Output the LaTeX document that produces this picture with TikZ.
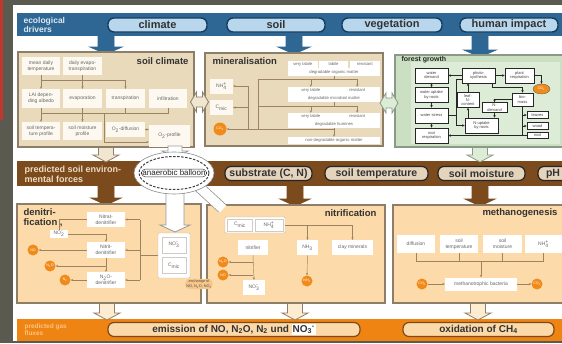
\documentclass[tikz,border=0pt]{standalone}
\usepackage{fontspec}
\setmainfont{Liberation Sans}
\usepackage{tikz}
\usetikzlibrary{shapes, arrows.meta, positioning}

\definecolor{bgdark}{HTML}{5A5A51}
\definecolor{redstrip}{HTML}{C2372D}
\definecolor{drvblue}{HTML}{2E6694}
\definecolor{drvpill}{HTML}{B8D7EC}
\definecolor{drvline}{HTML}{163E61}
\definecolor{drvtext}{HTML}{DCE9F3}
\definecolor{tanfill}{HTML}{E9DABC}
\definecolor{tanlight}{HTML}{F1E6D0}
\definecolor{tanline}{HTML}{8D7E69}
\definecolor{cellwhite}{HTML}{FDF9F1}
\definecolor{greenfill}{HTML}{CBE0C3}
\definecolor{greeninner}{HTML}{DDECD7}
\definecolor{greenline}{HTML}{8A9A85}
\definecolor{soilbrown}{HTML}{7B4A1D}
\definecolor{soilpill}{HTML}{E5D4BC}
\definecolor{soiltext}{HTML}{EEDCC2}
\definecolor{peach}{HTML}{FCDAA9}
\definecolor{peachlight}{HTML}{FDEBD2}
\definecolor{gasorange}{HTML}{EF8412}
\definecolor{gaspill}{HTML}{FCD9A8}
\definecolor{gastext}{HTML}{FBC383}
\definecolor{dotorange}{HTML}{F08B1B}
\definecolor{lnbrown}{HTML}{9C8463}
\definecolor{exchfill}{HTML}{F7C78A}

% x, y top, y tip, stem half width, head half width, fill, line
\newcommand{\blockdown}[7]{%
  \filldraw[fill=#6, draw=#7, line width=0.8pt] (#1-#4,#2) -- (#1+#4,#2) -- (#1+#4,#3-7) -- (#1+#5,#3-7) -- (#1,#3) -- (#1-#5,#3-7) -- (#1-#4,#3-7) -- cycle;}
% x, y, fill, line
\newcommand{\blockboth}[4]{%
  \filldraw[fill=#3, draw=#4, line width=0.8pt] (#1-9,#2) -- (#1-3,#2-10) -- (#1-3,#2-5) -- (#1+3,#2-5) -- (#1+3,#2-10) -- (#1+9,#2) -- (#1+3,#2+10) -- (#1+3,#2+5) -- (#1-3,#2+5) -- (#1-3,#2+10) -- cycle;}
% stacked index and charge
\newcommand{\ionsub}[2]{\ooalign{\textsuperscript{#2}\cr\textsubscript{#1}}}

\begin{document}
\begin{tikzpicture}[
    x=1pt, y=-1pt,
    every node/.style={font=\fontsize{5}{5.8}\selectfont, align=center},
    cell/.style={fill=cellwhite, inner sep=0.3pt, text=black!60},
    pool/.style={fill=white, inner sep=0pt, text=black!60, font=\fontsize{4.2}{4.6}\selectfont},
    fbox/.style={draw=black!85, line width=0.7pt, fill=white, inner sep=0.2pt, text=black!75, font=\fontsize{4}{4.4}\selectfont},
    gasdot/.style={circle, fill=dotorange, inner sep=0pt, minimum size=11pt, text=white, font=\fontsize{3.6}{4}\selectfont},
    ln/.style={draw=lnbrown, line width=0.45pt},
    arr/.style={ln, -{Stealth[length=2.4pt, width=2.2pt]}},
    fln/.style={draw=black!85, line width=0.55pt},
    farr/.style={fln, -{Stealth[length=2.6pt, width=2.4pt]}},
    panel/.style={draw=tanline, line width=1.6pt},
    paneltitle/.style={font=\bfseries\fontsize{9.5}{10}\selectfont, text=black!80, align=left},
    drvpillst/.style={rounded corners=6pt, fill=drvpill, draw=drvline, line width=1.4pt, minimum height=14pt, inner sep=0pt, text=black!80, font=\bfseries\fontsize{11}{12}\selectfont},
    soilpillst/.style={rounded corners=6pt, fill=soilpill, draw=black!85, line width=1.2pt, minimum height=14pt, inner sep=0pt, text=black!80, font=\bfseries\fontsize{10.5}{12}\selectfont},
    gaspillst/.style={rounded corners=6pt, fill=gaspill, draw=soilbrown, line width=1.2pt, minimum height=14pt, inner sep=0pt, text=black!80, font=\bfseries\fontsize{10}{12}\selectfont}
  ]
  \useasboundingbox (0,0) rectangle (562,343);

  % --- Background ---
  \fill[bgdark] (0,0) rectangle (562,343);
  \fill[white] (13,5) rectangle (562,341);
  \fill[redstrip] (0,0) rectangle (3,120);

  % --- Driver bar ---
  \fill[drvblue] (17,13) rectangle (566,36);
  \node[anchor=west, font=\bfseries\fontsize{8.5}{9.5}\selectfont, text=drvtext, align=left] (drvlabel) at (20,25) {ecological\\drivers};
  \node[drvpillst, minimum width=99pt] (climate) at (157.5,25) {climate};
  \node[drvpillst, minimum width=98pt] (soil) at (276,25) {soil};
  \node[drvpillst, minimum width=100pt] (vegetation) at (392,25) {vegetation};
  \node[drvpillst, minimum width=98pt] (humanimpact) at (509,25) {human impact};

  % --- Soil environment bar ---
  \fill[soilbrown] (17,161) rectangle (566,186);
  \node[anchor=west, font=\bfseries\fontsize{9}{10}\selectfont, text=soiltext, align=left] (soillabel) at (21,174) {predicted soil environ-\\mental forces};
  \node[soilpillst, minimum width=87pt] (psubstrate) at (268.5,173.5) {substrate (C, N)};
  \node[soilpillst, minimum width=103pt] (ptemp) at (376.5,173.5) {soil temperature};
  \node[soilpillst, minimum width=87pt] (pmoist) at (481.5,173.5) {soil moisture};
  \node[soilpillst, minimum width=30pt] (pph) at (553,173.5) {pH};

  % --- Gas flux bar ---
  \fill[gasorange] (17,319) rectangle (566,341);
  \node[anchor=west, font=\bfseries\fontsize{6.5}{7.5}\selectfont, text=gastext, align=left] (gaslabel) at (21,329.5) {predicted gas\\fluxes};
  \node[gaspillst, minimum width=252pt] (pemission) at (234,329.5) {emission of NO, N\textsubscript{2}O, N\textsubscript{2} und {\fboxsep=0.8pt\colorbox{white}{NO\textsubscript{3}\textsuperscript{-}}}};
  \node[gaspillst, minimum width=151pt] (poxid) at (478.5,329.5) {oxidation of CH\textsubscript{4}};

  % --- Block arrows ---
  \blockdown{106}{34}{54}{8}{16}{drvblue}{drvblue}
  \blockdown{294}{34}{54}{8}{16}{drvblue}{drvblue}
  \blockdown{480}{34}{57}{8}{16}{drvblue}{drvblue}
  \blockdown{106}{145}{162}{7.5}{13}{tanlight}{tanline}
  \blockdown{480}{145}{162}{7.5}{13}{greeninner}{greenline}
  \blockdown{106}{185}{205}{8}{15}{soilbrown}{soilbrown}
  \blockdown{295}{185}{206}{8}{15}{soilbrown}{soilbrown}
  \blockdown{480}{185}{206}{8}{15}{soilbrown}{soilbrown}
  \blockdown{107}{301}{320}{7.5}{13}{peachlight}{tanline}
  \blockdown{295}{301}{320}{7.5}{13}{peachlight}{tanline}
  \blockdown{478}{301}{320}{7.5}{13}{peachlight}{tanline}

  % --- Soil climate ---
  \draw[panel, fill=tanfill] (18,52) rectangle (194,147);
  \node[paneltitle, anchor=east] (sctitle) at (192,61) {soil climate};
  \node[cell, minimum width=38pt, minimum height=18pt] (meantemp) at (41,66) {mean daily\\temperature};
  \node[cell, minimum width=39pt, minimum height=18pt] (evapotrans) at (82.5,66) {daily evapo-\\transpiration};
  \node[cell, minimum width=38pt, minimum height=19pt] (lai) at (41,98.5) {LAI depen-\\ding albedo};
  \node[cell, minimum width=39pt, minimum height=19pt] (evaporation) at (82.5,98.5) {evaporation};
  \node[cell, minimum width=39pt, minimum height=19pt] (transpiration) at (125.5,98.5) {transpiration};
  \node[cell, minimum width=38pt, minimum height=19pt] (infiltration) at (168,98.5) {infiltration};
  \node[cell, minimum width=38pt, minimum height=18pt] (soiltemp) at (41,131) {soil tempera-\\ture profile};
  \node[cell, minimum width=39pt, minimum height=18pt] (soilmoist) at (82.5,131) {soil moisture\\profile};
  \node[cell, minimum width=39pt, minimum height=15pt] (o2diff) at (125.5,129.5) {O\textsubscript{2}-diffusion};
  \node[cell, minimum width=41pt, minimum height=22pt] (o2prof) at (169.5,136) {O\textsubscript{2}-profile};
  \coordinate (scbusA) at (41,80);
  \draw[ln] (meantemp.south) -- (scbusA) -- (scbusA -| transpiration.north);
  \draw[ln] (evapotrans.south) -- (evapotrans.south |- scbusA);
  \draw[arr] (scbusA) -- (lai.north);
  \draw[arr] (scbusA -| evaporation.north) -- (evaporation.north);
  \draw[arr] (scbusA -| transpiration.north) -- (transpiration.north);
  \coordinate (scbusB) at (41,113);
  \draw[ln] (lai.south) -- (scbusB) -- (scbusB -| infiltration.south) -- (infiltration.south);
  \draw[ln] (evaporation.south) -- (evaporation.south |- scbusB);
  \draw[ln] (transpiration.south) -- (transpiration.south |- scbusB);
  \draw[arr] (scbusB) -- (soiltemp.north);
  \draw[arr] (scbusB -| soilmoist.north) -- (soilmoist.north);
  \draw[arr] (o2diff.east) -- (o2diff.east -| o2prof.west);
  \coordinate (scbusC) at (104,113);
  \coordinate (scbusD) at (104,142);
  \draw[arr] (scbusC) -- (scbusD) -- (scbusD -| o2prof.west);

  % --- Mineralisation ---
  \draw[panel, fill=tanfill] (205,53) rectangle (383,146);
  \node[paneltitle, anchor=west] (mintitle) at (209,61.5) {mineralisation};
  \node[pool, minimum width=29.6pt, minimum height=6.6pt] (mavl) at (302.8,64.3) {very labile};
  \node[pool, minimum width=29.6pt, minimum height=6.6pt] (malab) at (333.6,64.3) {labile};
  \node[pool, minimum width=30.4pt, minimum height=6.6pt] (mares) at (364.8,64.3) {resistant};
  \node[pool, minimum width=92pt, minimum height=7.2pt] (moa) at (334,72) {degradable organic matter};
  \node[pool, minimum width=45.6pt, minimum height=6.6pt] (mbvl) at (310.8,90.3) {very labile};
  \node[pool, minimum width=45.6pt, minimum height=6.6pt] (mbres) at (357.2,90.3) {resistant};
  \node[pool, minimum width=92pt, minimum height=7.2pt] (mbm) at (334,98) {degradable microbial matter};
  \node[pool, minimum width=45.6pt, minimum height=6.6pt] (mcvl) at (310.8,116.3) {very labile};
  \node[pool, minimum width=45.6pt, minimum height=6.6pt] (mcres) at (357.2,116.3) {resistant};
  \node[pool, minimum width=92pt, minimum height=7.2pt] (mch) at (334,124) {degradable humines};
  \node[pool, minimum width=92pt, minimum height=7pt] (mnon) at (334,140.5) {non-degradable organic matter};
  \node[cell, minimum width=23pt, minimum height=15pt] (nh4min) at (221.5,86) {NH\ionsub{4}{+}};
  \node[cell, minimum width=23pt, minimum height=15pt] (cmicmin) at (221.5,107.5) {C\textsubscript{mic}};
  \node[gasdot, minimum size=13pt] (co2min) at (220,129) {CO\textsubscript{2}};
  \coordinate (mtrunk) at (258,79);
  \draw[ln] (mtrunk) -- (mtrunk -| mbres.north);
  \draw[ln] (moa.south) -- (moa.south |- mtrunk);
  \draw[arr] (mtrunk -| mbvl.north) -- (mbvl.north);
  \draw[arr] (mtrunk -| mbres.north) -- (mbres.north);
  \coordinate (mbusB) at (258,106);
  \draw[ln] (mbusB) -- (mbusB -| mcres.north);
  \draw[ln] (mbm.south) -- (mbm.south |- mbusB);
  \draw[arr] (mbusB -| mcvl.north) -- (mcvl.north);
  \draw[arr] (mbusB -| mcres.north) -- (mcres.north);
  \coordinate (mbusC) at (258,129);
  \draw[ln] (mtrunk) -- (mbusC) -- (mbusC -| mnon.north);
  \draw[ln] (mch.south) -- (mch.south |- mbusC);
  \draw[arr] (mbusC -| mnon.north) -- (mnon.north);
  \draw[arr] (mbusC) -- (co2min.east);
  \coordinate (mcol) at (248,86);
  \draw[ln] (mcol) -- (mcol |- mbusC);
  \draw[arr] (mcol) -- (nh4min.east);
  \draw[arr] (mcol |- cmicmin.east) -- (cmicmin.east);

  % --- Forest growth ---
  \draw[draw=greenline, line width=1.6pt, fill=greenfill] (395,55) rectangle (570,147);
  \fill[greeninner] (411,62) rectangle (560,144);
  \node[anchor=west, font=\bfseries\fontsize{7}{8}\selectfont, text=black!85] (fgtitle) at (398,60) {forest growth};
  \node[fbox, minimum width=33pt, minimum height=15pt] (wdem) at (431.5,75.5) {water\\demand};
  \node[fbox, minimum width=33pt, minimum height=15pt] (photo) at (478.5,75.5) {photo-\\synthesis};
  \node[fbox, minimum width=29pt, minimum height=15pt] (presp) at (519.5,75.5) {plant\\respiration};
  \node[ellipse, fill=dotorange, draw=black!60, line width=0.4pt, minimum width=17pt, minimum height=10pt, inner sep=0pt, text=white, font=\fontsize{3.5}{4}\selectfont] (co2f) at (541.5,89) {CO\textsubscript{2}};
  \node[fbox, minimum width=33pt, minimum height=15pt] (wupt) at (431.5,95) {water uptake\\by roots};
  \node[fbox, minimum width=22pt, minimum height=15pt] (leafn) at (468,100) {leaf-\\N-\\content};
  \node[fbox, minimum width=21pt, minimum height=13pt] (biom) at (522.5,99.5) {bio-\\mass};
  \node[fbox, minimum width=25pt, minimum height=10pt] (ndem) at (494.5,107.5) {N-\\demand};
  \node[fbox, minimum width=33pt, minimum height=15pt] (wstr) at (431.5,115.5) {water stress};
  \node[fbox, minimum width=33pt, minimum height=15pt] (nupt) at (481.5,125.5) {N-uptake\\by roots};
  \node[fbox, minimum width=33pt, minimum height=15pt] (rresp) at (431.5,135.5) {root\\respiration};
  \node[fbox, minimum width=21pt, minimum height=6.5pt] (leaves) at (537.5,115) {leaves};
  \node[fbox, minimum width=21pt, minimum height=6.5pt] (wood) at (537.5,126) {wood};
  \node[fbox, minimum width=21pt, minimum height=6.5pt] (root) at (537.5,135.5) {root};
  \draw[farr] (photo.west) -- (wdem.east);
  \draw[farr] (photo.east) -- (presp.west);
  \draw[farr] (presp.east) -| (co2f.north);
  \draw[farr] (wdem.south) -- (wupt.north);
  \draw[farr] (wupt.south) -- (wstr.north);
  \draw[farr] (wstr.south) -- (rresp.north);
  \draw[farr] (leafn.north) -- (leafn.north |- photo.south);
  \draw[farr] ([xshift=-3pt]photo.south east) |- ([yshift=5pt]biom.north) -- (biom.north);
  \draw[farr] (biom.west) -| (ndem.north);
  \draw[farr] (ndem.south) -- (ndem.south |- nupt.north);
  \draw[farr] (leafn.south |- nupt.north) -- (leafn.south);
  \coordinate (fj) at (456,115.5);
  \draw[fln] ([yshift=-4pt]photo.west) -| (fj);
  \draw[fln] (wstr.east) -- (fj);
  \draw[farr] (fj) |- (nupt.west);
  \draw[fln] (biom.south) -- (biom.south |- root.west);
  \draw[farr] (biom.south |- leaves.west) -- (leaves.west);
  \draw[farr] (biom.south |- wood.west) -- (wood.west);
  \draw[farr] (root.west) -- (root.west -| rresp.east);

  \blockboth{199.5}{102}{tanlight}{tanline}
  \blockboth{389}{103}{greeninner}{greenline}

  % --- Denitrification ---
  \draw[panel, fill=peach] (17,204) rectangle (201,303);
  \node[paneltitle, anchor=north west] (denittitle) at (20,205) {denitri-\\fication ,};
  \node[cell, fill=white, minimum width=38pt, minimum height=15pt] (nitrat) at (106,219.5) {Nitrat-\\denitrifier};
  \node[cell, fill=white, minimum width=18pt, minimum height=8pt] (no2d) at (59,234) {NO\ionsub{2}{-}};
  \node[cell, fill=white, minimum width=38pt, minimum height=16pt] (nitrit) at (106,250) {Nitrit-\\denitrifier};
  \node[cell, fill=white, minimum width=38pt, minimum height=16pt] (n2oden) at (106,280) {N\textsubscript{2}O-\\denitrifier};
  \node[gasdot] (no) at (33,250) {NO};
  \node[gasdot] (n2o) at (50,266) {N\textsubscript{2}O};
  \node[gasdot] (n2) at (65,280) {N\textsubscript{2}};
  \node[draw=tanline!50, fill=white, rounded corners=1pt, minimum width=32pt, minimum height=45pt, inner sep=0pt] (rbox) at (174,255.5) {};
  \node[cell, fill=white, draw=tanline!40, line width=0.3pt, minimum width=24pt, minimum height=16pt] (no3r) at (174,245) {NO\ionsub{3}{-}};
  \node[cell, fill=white, draw=tanline!40, line width=0.3pt, minimum width=24pt, minimum height=16pt] (cmicr) at (174,265.5) {C\textsubscript{mic}};
  \coordinate (dcol) at (140,219.5);
  \draw[ln] (dcol) -- (dcol |- n2oden.east);
  \draw[arr] (dcol) -- (nitrat.east);
  \draw[arr] (dcol |- nitrit.east) -- (nitrit.east);
  \draw[arr] (dcol |- n2oden.east) -- (n2oden.east);
  \draw[ln] (rbox.west) -- (rbox.west -| dcol);
  \draw[ln] (nitrat.west) -| (no2d.north);
  \draw[arr] (no2d.east) -| (nitrit.north);
  \draw[arr] (nitrit.west) -- (nitrit.west -| no.east);
  \draw[arr] (nitrit.south) -- (n2oden.north);
  \draw[arr] (nitrit.south |- n2o.east) -- (n2o.east);
  \draw[arr] (n2oden.west) -- (n2.east);

  % --- Nitrification ---
  \draw[panel, fill=peach] (207,205) rectangle (385,303);
  \node[paneltitle, anchor=east] (nitrtitle) at (380,213.5) {nitrification};
  \node[draw=tanline!50, fill=white, rounded corners=1pt, minimum width=60pt, minimum height=16pt, inner sep=0pt] (sbox) at (255,225) {};
  \node[cell, fill=white, draw=tanline!40, line width=0.3pt, minimum width=25pt, minimum height=12pt] (cmicn) at (240,225) {C\textsubscript{mic}};
  \node[cell, fill=white, draw=tanline!40, line width=0.3pt, minimum width=28pt, minimum height=12pt] (nh4n) at (269,225) {NH\ionsub{4}{+}};
  \node[cell, fill=white, minimum width=30pt, minimum height=15pt] (nitrifier) at (253,247.5) {nitrifier};
  \node[cell, fill=white, minimum width=21pt, minimum height=15pt] (nh3) at (307.5,247.5) {NH\textsubscript{3}};
  \node[cell, fill=white, minimum width=41pt, minimum height=15pt] (clay) at (352.5,247.5) {clay minerals};
  \node[gasdot] (n2on) at (223,262) {N\textsubscript{2}O};
  \node[gasdot] (non) at (223,275) {NO};
  \node[cell, fill=white, minimum width=22pt, minimum height=15pt] (no3n) at (254,287.5) {NO\ionsub{3}{-}};
  \node[gasdot] (nh3c) at (307,281) {NH\textsubscript{3}};
  \draw[arr] (sbox.east) -| (clay.north);
  \draw[arr] (sbox.east -| nh3.north) -- (nh3.north);
  \draw[arr] (nitrifier.south) -- (no3n.north);
  \draw[arr] (nitrifier.south |- n2on.east) -- (n2on.east);
  \draw[arr] (nitrifier.south |- non.east) -- (non.east);
  \draw[arr] (nh3.south) -- (nh3c.north);

  % --- Methanogenesis ---
  \draw[panel, fill=peach] (393,205) rectangle (570,303);
  \node[paneltitle, anchor=east] (methtitle) at (561,213.5) {methanogenesis};
  \node[cell, fill=white, minimum width=38pt, minimum height=18pt] (diff) at (416,244) {diffusion};
  \node[cell, fill=white, minimum width=38pt, minimum height=18pt] (stemp) at (459,244) {soil\\temperature};
  \node[cell, fill=white, minimum width=39pt, minimum height=18pt] (smoist) at (502.5,244) {soil\\moisture};
  \node[cell, fill=white, minimum width=37pt, minimum height=18pt] (nh4me) at (543.5,244) {NH\ionsub{4}{+}};
  \node[cell, fill=white, minimum width=72pt, minimum height=13pt] (mbact) at (481,284) {methanotrophic bacteria};
  \node[gasdot] (ch4) at (422,284) {CH\textsubscript{4}};
  \node[gasdot] (co2n) at (537,284) {CO\textsubscript{2}};
  \coordinate (mbus) at (416,261);
  \draw[ln] (diff.south) -- (mbus) -- (mbus -| nh4me.south) -- (nh4me.south);
  \draw[ln] (stemp.south) -- (stemp.south |- mbus);
  \draw[ln] (smoist.south) -- (smoist.south |- mbus);
  \draw[arr] (mbus -| mbact.north) -- (mbact.north);
  \draw[arr] (ch4.east) -- (mbact.west);
  \draw[arr] (mbact.east) -- (co2n.west);

  % --- Anaerobic balloon ---
  \blockdown{175}{146}{158}{7}{13}{white}{black!40}
  \blockdown{175}{188}{232}{9}{15}{white}{black!40}
  \draw[black!40, line width=11pt] (198,186) -- (222,208);
  \draw[white, line width=9.4pt] (197,185) -- (223,209);
  \node[fill=exchfill, rounded corners=4pt, inner sep=1pt, font=\fontsize{3.8}{4.3}\selectfont, text=black!70] (exch) at (199,284) {exchange of\\NO, N\textsubscript{2}O, NO\ionsub{3}{-}};
  \node[ellipse, fill=white, draw=black!45, line width=0.6pt, minimum width=80pt, minimum height=42pt] (balloon) at (174,173) {};
  \draw[black!75, line width=1pt, dash pattern=on 2.5pt off 1.5pt] (balloon.center) ellipse [x radius=35pt, y radius=16.5pt];
  \node[draw=black!80, fill=white, rounded corners=4pt, inner sep=1pt, font=\fontsize{8}{9}\selectfont, text=black!85] (balloontxt) at (174,173) {anaerobic balloon};
\end{tikzpicture}
\end{document}
